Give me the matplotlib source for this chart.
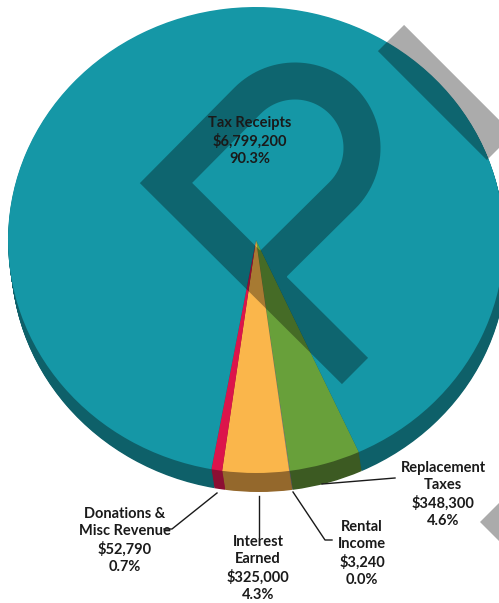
import numpy as np
import matplotlib.pyplot as plt

# ── Data ──────────────────────────────────────────────────────────────────────

sources = ["Replacement\nTaxes", "Rental\nIncome", "Interest\nEarned",
           "Donations &\nMisc Revenue", "Tax Receipts"]
amounts = [348300, 3240, 325000, 52790, 6799200]

# ── Style ─────────────────────────────────────────────────────────────────────

TOP_COLORS  = ["#68a03a", "#8a8a8a", "#fab64b", "#dc144b", "#1597a6"]
SIDE_COLORS = ["#3c5a22", "#555555", "#94682c", "#8c0f33", "#0e6069"]
TEXT_COLOR  = "#1a1a1a"
FONT        = ["Lato", "DejaVu Sans"]

W, H = 499, 603
CX, CY = 256, 240          # pie centre (pixels)
RX, RY = 248, 233          # ellipse radii of the tilted top face
DEPTH = 19                 # side thickness (pixels)
SKEW = 3                   # sideways shift of the bottom face (pixels)

# label anchor (pixel x, pixel y of first line) and leader polylines
label_pos = [(443, 461), (362, 520), (258, 535), (125, 507), (250, 116)]
leaders = [
    [(395, 478), (322, 484)],
    [(332, 540), (325, 540), (293, 492)],
    [(259, 496), (259, 537)],
    [(217, 493), (172, 529), (164, 529)],
    None,
]

fig = plt.figure(figsize=(W / 100, H / 100), dpi=100)

# ── Pie (data units of one radius, stretched into an ellipse) ────────────────

ax = fig.add_axes([0, 0, 1, 1])
for f in np.linspace(1, 0, 24, endpoint=False):
    ax.pie(amounts, colors=SIDE_COLORS, startangle=-65.5, counterclock=False,
           center=(f * SKEW / RX, -f * DEPTH / RY), radius=1.0,
           wedgeprops={"linewidth": 0})
ax.pie(amounts, colors=TOP_COLORS, startangle=-65.5, counterclock=False,
       center=(0, 0), radius=1.0, wedgeprops={"linewidth": 0})
ax.set_aspect("auto")
ax.set_xlim(-CX / RX, (W - CX) / RX)
ax.set_ylim(-(H - CY) / RY, CY / RY)
ax.axis("off")

# ── Overlay in pixel coordinates ──────────────────────────────────────────────

ov = fig.add_axes([0, 0, 1, 1])
ov.set_xlim(0, W)
ov.set_ylim(H, 0)
ov.axis("off")
ov.patch.set_alpha(0)

# watermark logo
mark_lw = 37 * 0.72
t = np.radians(np.linspace(225, 405, 60))
arc_x = 295 + 67 * np.cos(t)
arc_y = 148 + 67 * np.sin(t)
px = np.concatenate([[355, 166], arc_x, [260]])
py = np.concatenate([[371, 183], arc_y, [277]])
ov.plot(px, py, color="black", alpha=0.33, lw=mark_lw,
        solid_joinstyle="miter", solid_capstyle="butt")
ov.plot([391, 620], [38, 267], color="black", alpha=0.33, lw=mark_lw,
        solid_capstyle="butt")
ov.fill([480, 520, 560, 520], [522, 482, 522, 562], color="black",
        alpha=0.33, lw=0)

# labels and leader lines
total = sum(amounts)
for name, amt, (lx, ly), lead in zip(sources, amounts, label_pos, leaders):
    txt = f"{name}\n${amt:,}\n{amt / total:.1%}"
    ov.text(lx, ly, txt, ha="center", va="top", fontsize=10.5,
            fontweight="bold", family=FONT, color=TEXT_COLOR, linespacing=1.3)
    if lead:
        xs, ys = zip(*lead)
        ov.plot(xs, ys, color="#1a1a1a", lw=1.0)

fig.savefig("out.png", dpi=100)
